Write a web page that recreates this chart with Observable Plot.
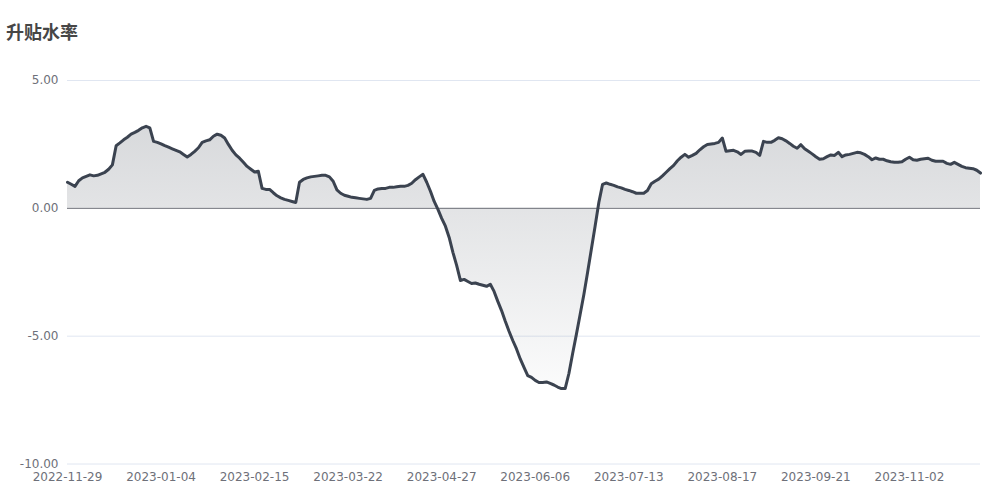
<!DOCTYPE html>
<html><head><meta charset="utf-8">
<script src="https://cdn.jsdelivr.net/npm/d3@7"></script>
<script src="https://cdn.jsdelivr.net/npm/@observablehq/plot@0.6"></script>
<style>
body{margin:0;background:#fff;}
#wrap{position:relative;width:1000px;height:500px;}
#title{position:absolute;left:6px;top:22px;font-weight:bold;font-size:18px;font-family:"Noto Sans CJK SC",sans-serif;color:#464646;line-height:18px;}
#chart{position:absolute;left:0;top:0;}
</style></head><body>
<div id="wrap"><div id="chart"></div><div id="title">升贴水率</div></div>
<script>
// x-axis category labels (every 25th trading day) and their positions in the series
const tickLabels = ["2022-11-29","2023-01-04","2023-02-15","2023-03-22","2023-04-27","2023-06-06","2023-07-13","2023-08-17","2023-09-21","2023-11-02"];
const tickIndex = [0,25,50,75,100,125,150,175,200,225];
const yTicks = [5,0,-5,-10];
// 升贴水率, one value per trading day (index 0 = 2022-11-29)
const rate = [
1.02,0.94,0.86,1.08,1.19,1.25,1.31,1.27,1.29,1.35,
1.41,1.53,1.70,2.45,2.56,2.68,2.78,2.90,2.97,3.05,
3.15,3.21,3.15,2.62,2.58,2.52,2.45,2.39,2.33,2.27,
2.21,2.11,2.01,2.11,2.23,2.37,2.58,2.64,2.68,2.82,
2.90,2.86,2.75,2.50,2.27,2.09,1.96,1.80,1.64,1.53,
1.42,1.45,0.78,0.74,0.74,0.61,0.49,0.41,0.35,0.31,
0.27,0.23,1.02,1.13,1.19,1.23,1.25,1.27,1.29,1.29,
1.23,1.06,0.72,0.59,0.51,0.47,0.43,0.41,0.39,0.37,
0.35,0.39,0.70,0.76,0.78,0.78,0.82,0.82,0.84,0.86,
0.86,0.90,0.98,1.12,1.23,1.33,1.02,0.67,0.27,-0.04,
-0.39,-0.70,-1.14,-1.72,-2.23,-2.82,-2.78,-2.86,-2.94,-2.92,
-2.97,-3.01,-3.05,-2.97,-3.25,-3.64,-4.00,-4.42,-4.81,-5.17,
-5.50,-5.89,-6.22,-6.54,-6.61,-6.73,-6.81,-6.81,-6.79,-6.85,
-6.91,-6.99,-7.05,-7.05,-6.46,-5.68,-4.93,-4.15,-3.37,-2.50,
-1.60,-0.70,0.23,0.94,0.99,0.94,0.90,0.84,0.80,0.74,
0.70,0.65,0.59,0.59,0.59,0.70,0.96,1.06,1.14,1.27,
1.41,1.55,1.68,1.86,2.00,2.11,2.00,2.07,2.15,2.29,
2.41,2.50,2.52,2.54,2.58,2.75,2.23,2.25,2.27,2.21,
2.11,2.23,2.24,2.24,2.19,2.07,2.62,2.58,2.58,2.66,
2.76,2.72,2.64,2.54,2.43,2.35,2.49,2.33,2.23,2.13,
2.02,1.92,1.94,2.02,2.09,2.07,2.19,2.02,2.09,2.11,
2.15,2.19,2.17,2.11,2.02,1.90,1.97,1.92,1.92,1.86,
1.82,1.80,1.80,1.82,1.92,2.00,1.90,1.88,1.92,1.94,
1.96,1.88,1.84,1.84,1.84,1.76,1.72,1.80,1.72,1.64,
1.59,1.57,1.55,1.49,1.38
];
const data = rate.map((v, i) => ({i, v}));

function gradientDefs() {
  const ns = "http://www.w3.org/2000/svg";
  const defs = document.createElementNS(ns, "defs");
  const g = document.createElementNS(ns, "linearGradient");
  g.setAttribute("id", "rateGrad");
  g.setAttribute("x1", "0"); g.setAttribute("y1", "0");
  g.setAttribute("x2", "0"); g.setAttribute("y2", "1");
  [["0%", "rgb(58,66,78)", 0.2], ["100%", "rgb(58,66,78)", 0.02]].forEach(([o, c, a]) => {
    const s = document.createElementNS(ns, "stop");
    s.setAttribute("offset", o); s.setAttribute("stop-color", c); s.setAttribute("stop-opacity", a);
    g.appendChild(s);
  });
  defs.appendChild(g);
  return defs;
}

const chart = Plot.plot({
  width: 1000, height: 500,
  marginLeft: 67, marginRight: 20, marginTop: 80, marginBottom: 36.5,
  x: {type: "linear", domain: [0, rate.length - 1], axis: null, label: null},
  y: {domain: [-10, 5], axis: null, label: null},
  style: {fontFamily: "DejaVu Sans", fontSize: "12px", color: "#6e7079", background: "#fff", overflow: "visible"},
  marks: [
    gradientDefs,
    Plot.ruleY([5, -5, -10], {stroke: "#e0e6f1", strokeWidth: 1}),
    Plot.areaY(data, {x: "i", y: "v", fill: "url(#rateGrad)"}),
    Plot.ruleY([0], {stroke: "#6e7079", strokeWidth: 1}),
    Plot.lineY(data, {x: "i", y: "v", stroke: "#3b4350", strokeWidth: 3, strokeLinejoin: "round"}),
    Plot.axisY(yTicks, {label: null, tickSize: 0, tickPadding: 9, tickFormat: d => d.toFixed(2), fill: "#6e7079", fontSize: 12}),
    Plot.axisX(tickIndex, {label: null, tickSize: 0, tickPadding: 8, tickFormat: d => tickLabels[tickIndex.indexOf(d)], fill: "#6e7079", fontSize: 12})
  ]
});
document.getElementById("chart").appendChild(chart);
</script>
</body></html>
